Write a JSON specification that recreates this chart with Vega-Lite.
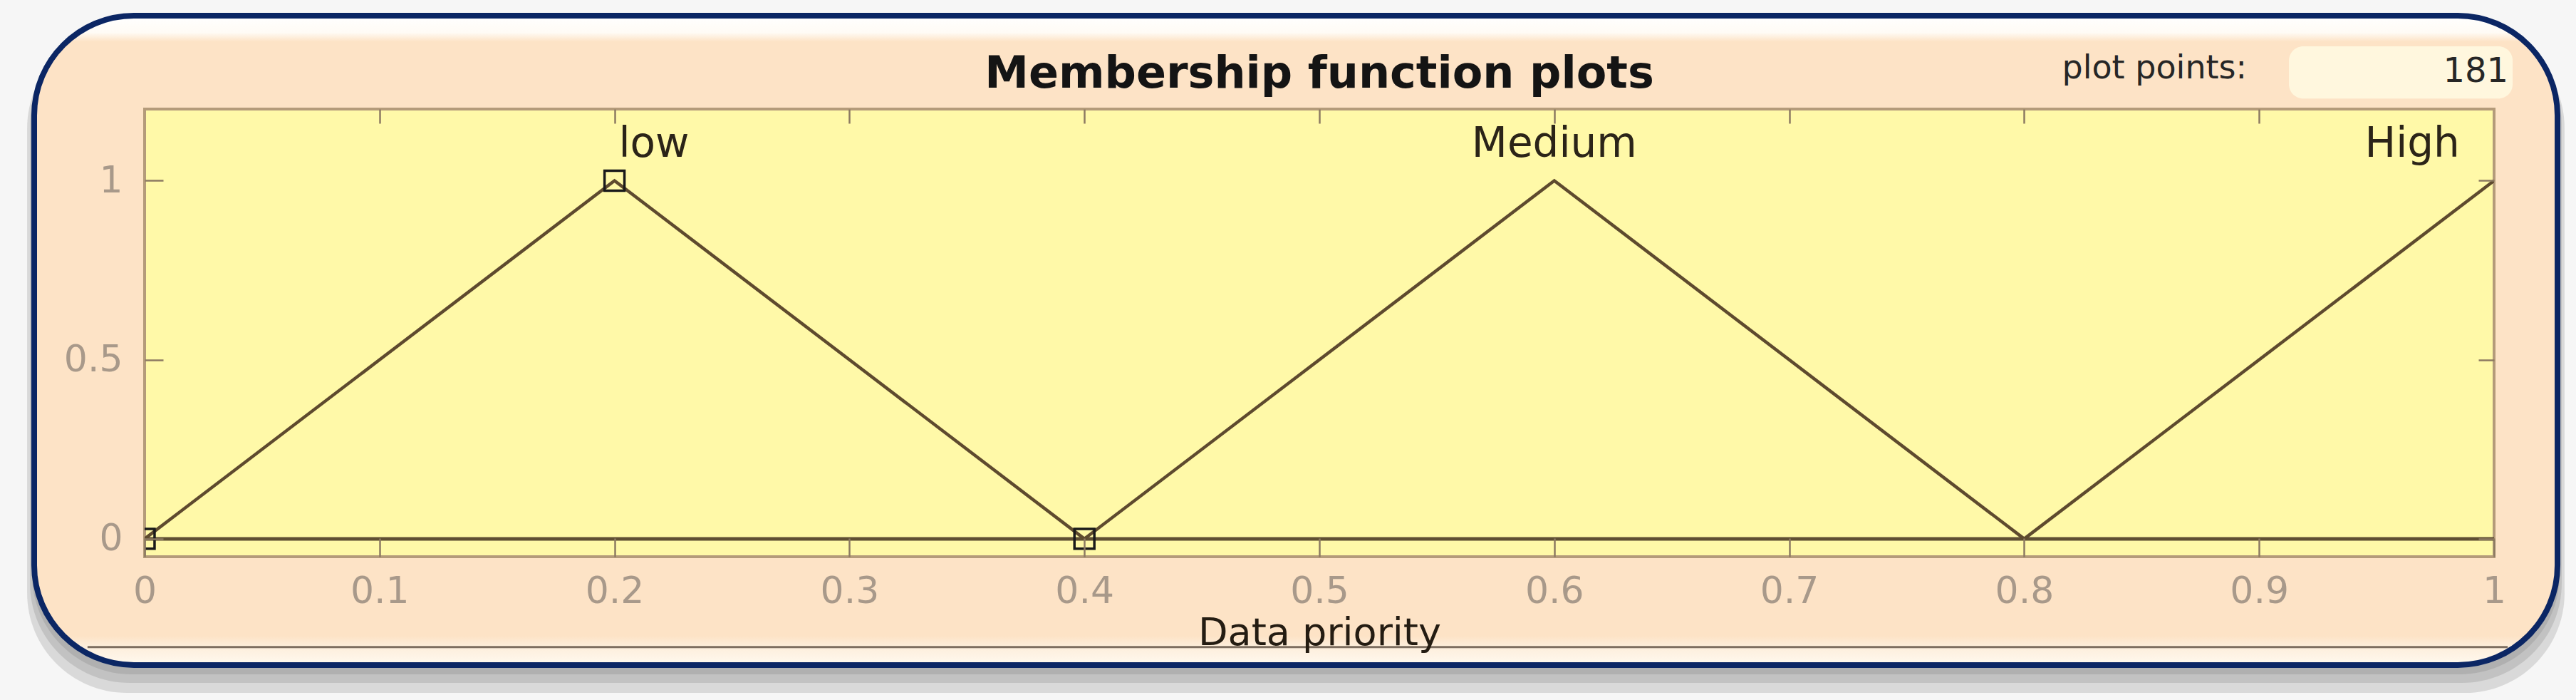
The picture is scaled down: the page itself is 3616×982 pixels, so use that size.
{
  "$schema": "https://vega.github.io/schema/vega-lite/v6.json",
  "width": 3298,
  "height": 628,
  "autosize": {"type": "none"},
  "padding": {"left": 203, "top": 153, "right": 115, "bottom": 201},
  "background": "#f6f6f6",
  "config": {"view": {"stroke": null}, "font": "DejaVu Sans"},
  "title": {
    "text": "Membership function plots",
    "font": "DejaVu Sans",
    "fontWeight": "bold",
    "fontSize": 62,
    "color": "#141414",
    "anchor": "middle",
    "baseline": "alphabetic",
    "offset": -167,
    "zindex": 1
  },
  "resolve": {"axis": {"x": "independent", "y": "independent"}},
  "datasets": {
    "shadow": [
      {"x0": -0.0500, "x1": 1.0300, "y0": -0.4302, "y1": 1.4250},
      {"x0": -0.0488, "x1": 1.0288, "y0": -0.4023, "y1": 1.4369},
      {"x0": -0.0479, "x1": 1.0279, "y0": -0.3784, "y1": 1.4449}
    ],
    "mf": [
      {"mf": "low", "x": 0, "y": 0},
      {"mf": "low", "x": 0.2, "y": 1},
      {"mf": "low", "x": 0.4, "y": 0},
      {"mf": "Medium", "x": 0.4, "y": 0},
      {"mf": "Medium", "x": 0.6, "y": 1},
      {"mf": "Medium", "x": 0.8, "y": 0},
      {"mf": "High", "x": 0.8, "y": 0},
      {"mf": "High", "x": 1.0, "y": 1}
    ],
    "mflabels": [
      {"name": "low", "x": 0.2168, "y": 1.0667},
      {"name": "Medium", "x": 0.6, "y": 1.0667},
      {"name": "High", "x": 0.9652, "y": 1.0667}
    ]
  },
  "layer": [
    {
      "data": {"name": "shadow"},
      "mark": {"type": "rect", "fill": "#6a6a6a", "opacity": 0.2, "cornerRadius": 140},
      "encoding": {
        "x": {"field": "x0", "type": "quantitative", "scale": {"domain": [0, 1], "nice": false, "zero": false}, "axis": null},
        "x2": {"field": "x1"},
        "y": {"field": "y0", "type": "quantitative", "scale": {"domain": [-0.05, 1.2], "nice": false, "zero": false}, "axis": null},
        "y2": {"field": "y1"}
      }
    },
    {
      "data": {"values": [{}]},
      "mark": {
        "type": "rect",
        "cornerRadius": 140,
        "stroke": "#0b2664",
        "strokeWidth": 8,
        "fill": {
          "gradient": "linear",
          "x1": 0, "y1": 0, "x2": 0, "y2": 1,
          "stops": [
            {"offset": 0, "color": "#ffffff"},
            {"offset": 0.026, "color": "#fffbf5"},
            {"offset": 0.04, "color": "#fde3c6"},
            {"offset": 0.955, "color": "#fde3c6"},
            {"offset": 0.972, "color": "#fdeedc"},
            {"offset": 1, "color": "#fff9ef"}
          ]
        }
      },
      "encoding": {
        "x": {"datum": -0.047, "type": "quantitative", "scale": {"domain": [0, 1], "nice": false, "zero": false}, "axis": null},
        "x2": {"datum": 1.027},
        "y": {"datum": -0.3523, "type": "quantitative", "scale": {"domain": [-0.05, 1.2], "nice": false, "zero": false}, "axis": null},
        "y2": {"datum": 1.4608}
      }
    },
    {
      "data": {"values": [{}]},
      "mark": {"type": "rule", "color": "#7d6e60", "strokeWidth": 3},
      "encoding": {
        "x": {"datum": -0.0243, "type": "quantitative", "scale": {"domain": [0, 1], "nice": false, "zero": false}, "axis": null},
        "x2": {"datum": 1.0058},
        "y": {"datum": -0.3024, "type": "quantitative", "scale": {"domain": [-0.05, 1.2], "nice": false, "zero": false}, "axis": null}
      }
    },
    {
      "data": {"values": [{}]},
      "mark": {"type": "rect", "fill": "#fff7de", "cornerRadius": 20},
      "encoding": {
        "x": {"datum": 0.9127, "type": "quantitative", "scale": {"domain": [0, 1], "nice": false, "zero": false}, "axis": null},
        "x2": {"datum": 1.0079},
        "y": {"datum": 1.2296, "type": "quantitative", "scale": {"domain": [-0.05, 1.2], "nice": false, "zero": false}, "axis": null},
        "y2": {"datum": 1.3752}
      }
    },
    {
      "data": {"values": [{"label": "plot points:"}]},
      "mark": {"type": "text", "align": "right", "baseline": "alphabetic", "fontSize": 46, "font": "DejaVu Sans", "color": "#262626"},
      "encoding": {
        "x": {"datum": 0.8948, "type": "quantitative", "scale": {"domain": [0, 1], "nice": false, "zero": false}, "axis": null},
        "y": {"datum": 1.2855, "type": "quantitative", "scale": {"domain": [-0.05, 1.2], "nice": false, "zero": false}, "axis": null},
        "text": {"field": "label"}
      }
    },
    {
      "data": {"values": [{"label": "181"}]},
      "mark": {"type": "text", "align": "right", "baseline": "alphabetic", "fontSize": 48, "font": "DejaVu Sans", "color": "#262626"},
      "encoding": {
        "x": {"datum": 1.0061, "type": "quantitative", "scale": {"domain": [0, 1], "nice": false, "zero": false}, "axis": null},
        "y": {"datum": 1.2757, "type": "quantitative", "scale": {"domain": [-0.05, 1.2], "nice": false, "zero": false}, "axis": null},
        "text": {"field": "label"}
      }
    },
    {
      "data": {"values": [{}]},
      "mark": {"type": "rect", "fill": "#fff9a8", "stroke": "#b49b7a", "strokeWidth": 4},
      "encoding": {
        "x": {"value": 0},
        "x2": {"value": "width"},
        "y": {"value": 0},
        "y2": {"value": "height"}
      }
    },
    {
      "data": {"values": [{}]},
      "mark": {"type": "rule", "color": "#5f4f33", "strokeWidth": 5},
      "encoding": {
        "x": {"datum": 0, "type": "quantitative", "scale": {"domain": [0, 1], "nice": false, "zero": false}, "axis": null},
        "x2": {"datum": 1},
        "y": {"datum": 0, "type": "quantitative", "scale": {"domain": [-0.05, 1.2], "nice": false, "zero": false}, "axis": null}
      }
    },
    {
      "data": {"name": "mf"},
      "mark": {"type": "line", "color": "#5e4a2e", "strokeWidth": 4.5, "clip": true},
      "encoding": {
        "x": {
          "field": "x", "type": "quantitative",
          "scale": {"domain": [0, 1], "nice": false, "zero": false},
          "axis": {
            "orient": "bottom",
            "values": [0, 0.1, 0.2, 0.3, 0.4, 0.5, 0.6, 0.7, 0.8, 0.9, 1],
            "format": ".2~f",
            "domain": false,
            "grid": false,
            "ticks": true,
            "tickSize": -26,
            "tickColor": "#8c7a62",
            "tickWidth": 2.5,
            "labelFont": "DejaVu Sans",
            "labelFontSize": 52,
            "labelColor": "#a8998a",
            "labelPadding": 49,
            "labelBaseline": "top",
            "labelFlush": false,
            "labelOverlap": false,
            "title": "Data priority",
            "titleFont": "DejaVu Sans",
            "titleFontSize": 54,
            "titleFontWeight": "normal",
            "titleColor": "#241c12",
            "titlePadding": 6,
            "zindex": 1
          }
        },
        "y": {
          "field": "y", "type": "quantitative",
          "scale": {"domain": [-0.05, 1.2], "nice": false, "zero": false},
          "axis": {
            "orient": "left",
            "values": [0, 0.5, 1],
            "format": ".1~f",
            "domain": false,
            "grid": false,
            "ticks": true,
            "tickSize": -26,
            "tickColor": "#8c7a62",
            "tickWidth": 2.5,
            "labelFont": "DejaVu Sans",
            "labelFontSize": 52,
            "labelColor": "#a8998a",
            "labelPadding": 57,
            "title": null,
            "zindex": 1
          }
        },
        "detail": {"field": "mf"}
      }
    },
    {
      "data": {"name": "mf"},
      "transform": [{"filter": "datum.mf === 'low'"}],
      "mark": {"type": "point", "shape": "square", "filled": false, "stroke": "#1a1a1a", "strokeWidth": 3.5, "size": 780, "clip": true, "opacity": 1},
      "encoding": {
        "x": {
          "field": "x", "type": "quantitative",
          "scale": {"domain": [0, 1], "nice": false, "zero": false},
          "axis": {
            "orient": "top",
            "values": [0.1, 0.2, 0.3, 0.4, 0.5, 0.6, 0.7, 0.8, 0.9],
            "labels": false,
            "domain": false,
            "grid": false,
            "ticks": true,
            "tickSize": -20,
            "tickColor": "#8c7a62",
            "tickWidth": 2.5,
            "title": null,
            "zindex": 1
          }
        },
        "y": {
          "field": "y", "type": "quantitative",
          "scale": {"domain": [-0.05, 1.2], "nice": false, "zero": false},
          "axis": {
            "orient": "right",
            "values": [0, 0.5, 1],
            "labels": false,
            "domain": false,
            "grid": false,
            "ticks": true,
            "tickSize": -22,
            "tickColor": "#8c7a62",
            "tickWidth": 2.5,
            "title": null,
            "zindex": 1
          }
        }
      }
    },
    {
      "data": {"name": "mflabels"},
      "mark": {"type": "text", "align": "center", "baseline": "alphabetic", "fontSize": 58, "font": "DejaVu Sans", "color": "#2b2418"},
      "encoding": {
        "x": {"field": "x", "type": "quantitative", "scale": {"domain": [0, 1], "nice": false, "zero": false}, "axis": null},
        "y": {"field": "y", "type": "quantitative", "scale": {"domain": [-0.05, 1.2], "nice": false, "zero": false}, "axis": null},
        "text": {"field": "name"}
      }
    }
  ]
}
